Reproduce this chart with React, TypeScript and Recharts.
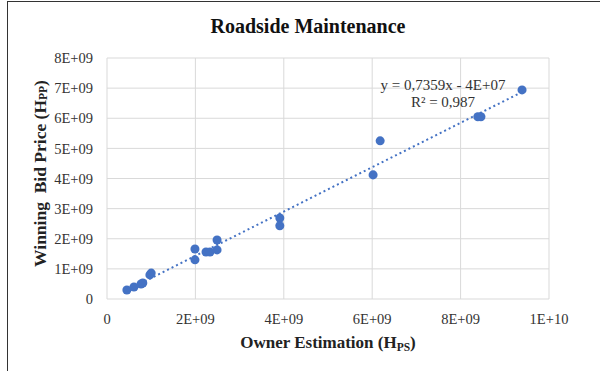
import React from "react";
import {
  ScatterChart,
  Scatter,
  XAxis,
  YAxis,
  ZAxis,
  CartesianGrid,
  ReferenceLine,
  Label,
  Customized,
} from "recharts";

// owner estimation (x) vs winning bid price (y)
const ownerEstimation = [
  0.45e9, 0.61e9, 0.77e9, 0.81e9, 0.97e9, 1.0e9,
  1.99e9, 1.99e9, 2.24e9, 2.33e9, 2.49e9, 2.49e9,
  3.91e9, 3.91e9, 6.02e9, 6.18e9, 8.39e9, 8.46e9, 9.39e9,
];
const winningBid = [
  0.3e9, 0.4e9, 0.5e9, 0.53e9, 0.8e9, 0.86e9,
  1.66e9, 1.3e9, 1.56e9, 1.56e9, 1.63e9, 1.96e9,
  2.69e9, 2.43e9, 4.12e9, 5.25e9, 6.05e9, 6.05e9, 6.94e9,
];
const xTicks = [0, 2e9, 4e9, 6e9, 8e9, 1e10];
const yTicks = [0, 1e9, 2e9, 3e9, 4e9, 5e9, 6e9, 7e9, 8e9];
const slope = 0.7359;
const intercept = -4e7;

const points = ownerEstimation.map((x, i) => ({ x, y: winningBid[i] }));
const xMin = Math.min(...ownerEstimation);
const xMax = Math.max(...ownerEstimation);
const trend = [
  { x: xMin, y: slope * xMin + intercept },
  { x: xMax, y: slope * xMax + intercept },
];

const BLUE = "#4472C4";
const FONT = "'Liberation Serif', 'Times New Roman', serif";

function fmt(v: number) {
  if (v === 0) return "0";
  const e = Math.floor(Math.log10(v));
  const m = Math.round(v / Math.pow(10, e));
  return `${m}E+${String(e).padStart(2, "0")}`;
}

const tickStyle = { fontFamily: FONT, fontSize: 14.5, fill: "#333" };

function YTitle(props: any) {
  const vb = props.viewBox;
  const cx = vb.x - 7;
  const cy = vb.y + vb.height / 2 - 5;
  return (
    <text
      x={cx}
      y={cy}
      transform={`rotate(-90 ${cx} ${cy})`}
      textAnchor="middle"
      dominantBaseline="central"
      style={{ fontFamily: FONT, fontSize: 17.5, fontWeight: 700, fill: "#222" }}
    >
      Winning&#160; Bid Price (H
      <tspan fontSize={11.5} dy={3}>PP</tspan>
      <tspan dy={-3}>)</tspan>
    </text>
  );
}

function XTitle(props: any) {
  const vb = props.viewBox;
  return (
    <text
      x={vb.x + vb.width / 2}
      y={vb.y + 49}
      textAnchor="middle"
      style={{ fontFamily: FONT, fontSize: 17, fontWeight: 700, fill: "#222" }}
    >
      Owner Estimation (H
      <tspan fontSize={11.5} dy={3}>PS</tspan>
      <tspan dy={-3}>)</tspan>
    </text>
  );
}

function Texts() {
  return (
    <g style={{ fontFamily: FONT }}>
      <text x={308} y={33} textAnchor="middle" fontSize={20} fontWeight={700} fill="#111">
        Roadside Maintenance
      </text>
      <text x={443} y={90} textAnchor="middle" fontSize={15} fill="#333">
        y = 0,7359x - 4E+07
      </text>
      <text x={443} y={107} textAnchor="middle" fontSize={15} fill="#333">
        R² = 0,987
      </text>
    </g>
  );
}

export default function App() {
  return (
    <div style={{ position: "fixed", left: 0, top: 0, width: 600, height: 371, background: "#fff" }}>
      <div
        style={{
          position: "absolute",
          left: 7,
          top: 1,
          right: -2,
          bottom: -2,
          borderLeft: "1.5px solid #333",
          borderTop: "1.5px solid #333",
        }}
      />
      <ScatterChart
        width={600}
        height={371}
        margin={{ top: 58, right: 51, bottom: 42, left: 47 }}
        style={{ position: "absolute", left: 0, top: 0 }}
      >
        <CartesianGrid stroke="#d9d9d9" strokeWidth={1} />
        <XAxis
          type="number"
          dataKey="x"
          domain={[0, 1e10]}
          ticks={xTicks}
          tickFormatter={fmt}
          axisLine={false}
          tickLine={false}
          tickSize={0}
          tickMargin={15}
          height={30}
          tick={tickStyle}
          interval={0}
        >
          <Label content={<XTitle />} />
        </XAxis>
        <YAxis
          type="number"
          dataKey="y"
          domain={[0, 8e9]}
          ticks={yTicks}
          tickFormatter={fmt}
          axisLine={false}
          tickLine={false}
          tickSize={0}
          tickMargin={14}
          width={60}
          tick={tickStyle}
          interval={0}
        >
          <Label content={<YTitle />} />
        </YAxis>
        <ZAxis range={[90, 90]} />
        <ReferenceLine
          segment={trend}
          stroke={BLUE}
          strokeWidth={2}
          strokeDasharray="2 3"
          ifOverflow="visible"
        />
        <Scatter data={points} fill={BLUE} isAnimationActive={false} />
        <Customized component={Texts} />
      </ScatterChart>
    </div>
  );
}
